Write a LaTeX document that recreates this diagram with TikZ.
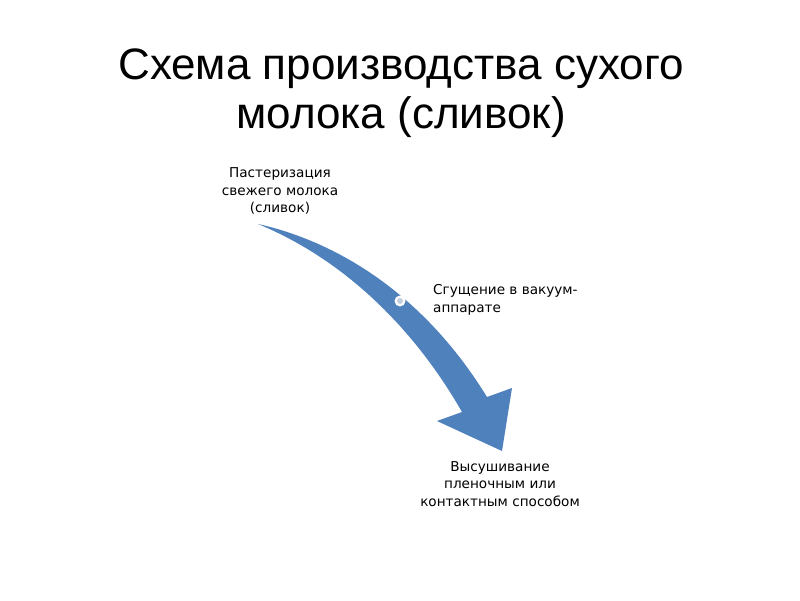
\documentclass[tikz,border=0pt]{standalone}
\usepackage{fontspec}
\setmainfont{Liberation Sans}
\newfontfamily\lblfont{DejaVu Sans}
\definecolor{arrowblue}{HTML}{4F81BD}
\definecolor{dotfill}{HTML}{C3CEDF}
\tikzset{
  title/.style={font=\fontsize{44}{49}\selectfont, align=center, text=black},
  lbl/.style={font=\lblfont\fontsize{13.6}{17.5}\selectfont, text=black, inner sep=0pt},
}
\begin{document}
\begin{tikzpicture}[x=1pt,y=-1pt]
\fill[white] (0,0) rectangle (800,600);
\useasboundingbox (0,0) rectangle (800,600);
\node[title] (t) at (401,93) {Схема производства сухого\\молока (сливок)};
\fill[arrowblue] (258,224) .. controls (330,240) and (420,288) .. (487,397)
  -- (512,388) -- (502,451) -- (437,421) -- (462,412)
  .. controls (418,335) and (350,262) .. (258,224) -- cycle;
\node[circle, fill=white, minimum size=11pt, inner sep=0pt] (d) at (400,301) {};
\node[circle, fill=dotfill, minimum size=6pt, inner sep=0pt] at (d) {};
\node[lbl, align=center] (a) at (280,191) {Пастеризация\\свежего молока\\(сливок)};
\node[lbl, align=left, anchor=west] (b) at (433,300) {Сгущение в вакуум-\\аппарате};
\node[lbl, align=center] (c) at (500,484) {Высушивание\\пленочным или\\контактным способом};
\end{tikzpicture}
\end{document}
